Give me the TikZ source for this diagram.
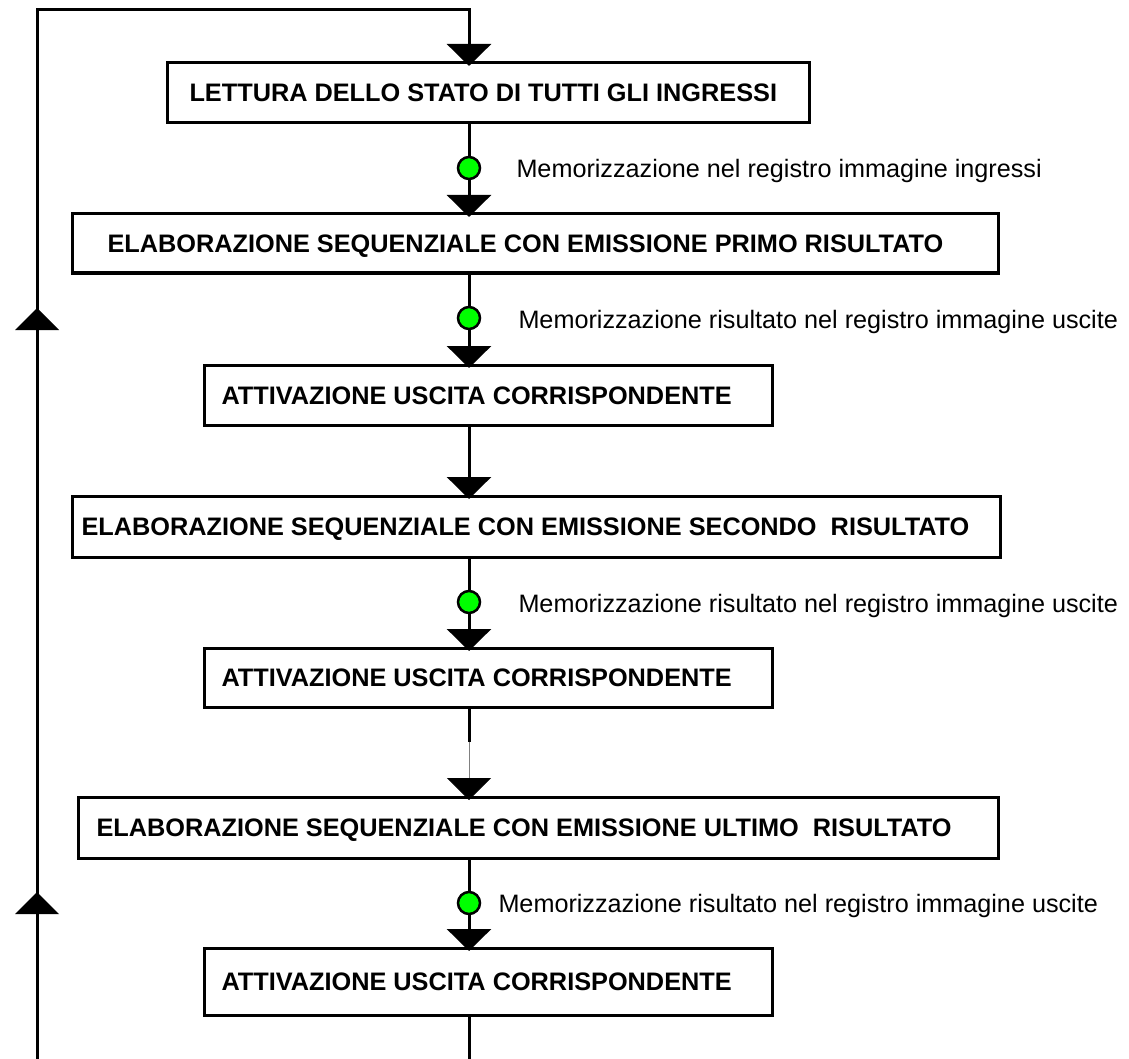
\documentclass[tikz,border=0pt]{standalone}
\usepackage{fontspec}
\setmainfont{Liberation Sans}
\usetikzlibrary{arrows.meta}
\definecolor{ledgreen}{RGB}{0,255,0}
\begin{document}
\begin{tikzpicture}[x=1pt,y=-1pt,
  line width=3pt, line join=miter,
  box/.style={draw, rectangle, inner sep=0pt, outer sep=0pt},
  boxtext/.style={anchor=base west, inner sep=0pt, font=\fontsize{25.3}{30}\selectfont\bfseries},
  note/.style={anchor=base west, inner sep=0pt, font=\fontsize{25.2}{30}\selectfont},
  dot/.style={circle, draw, fill=ledgreen, line width=2.5pt, minimum size=22pt, inner sep=0pt, outer sep=0pt},
  flow/.style={-{Triangle[width=44pt,length=22pt,color=black]}, shorten >=-3pt},
  uptri/.pic={\fill (-22,22) -- (22,22) -- (0,0) -- cycle;},
]
\useasboundingbox (0,0) rectangle (1129,1059);

% main flow axis
\coordinate (axis) at (469,0);

% process boxes
\node[box, minimum width=642pt, minimum height=60pt] (b1) at (488,93) {};
\node[box, minimum width=926pt, minimum height=59pt] (b2) at (535,243.5) {};
\node[box, minimum width=568pt, minimum height=60pt] (b3) at (488,395) {};
\node[box, minimum width=928pt, minimum height=61pt] (b4) at (536,526.5) {};
\node[box, minimum width=568pt, minimum height=59pt] (b5) at (488,677.5) {};
\node[box, minimum width=920pt, minimum height=61pt] (b6) at (538,827.5) {};
\node[box, minimum width=568pt, minimum height=67pt] (b7) at (488,981.5) {};

% box captions
\node[boxtext] (t1) at (188,102) {LETTURA DELLO STATO DI TUTTI GLI INGRESSI};
\node[boxtext] (t2) at (106,252.5) {ELABORAZIONE SEQUENZIALE CON EMISSIONE PRIMO RISULTATO};
\node[boxtext] (t3) at (220,404) {ATTIVAZIONE USCITA CORRISPONDENTE};
\node[boxtext] (t4) at (80,535.5) {ELABORAZIONE SEQUENZIALE CON EMISSIONE SECONDO\ \ RISULTATO};
\node[boxtext] (t5) at (220,686.5) {ATTIVAZIONE USCITA CORRISPONDENTE};
\node[boxtext] (t6) at (95,836.5) {ELABORAZIONE SEQUENZIALE CON EMISSIONE ULTIMO\ \ RISULTATO};
\node[boxtext] (t7) at (220,990.5) {ATTIVAZIONE USCITA CORRISPONDENTE};

% storage points
\node[dot] (c1) at (469,168) {};
\node[dot] (c2) at (469,318) {};
\node[dot] (c3) at (469,602) {};
\node[dot] (c4) at (469,903) {};

\node[note] (m1) at (515,178) {Memorizzazione nel registro immagine ingressi};
\node[note] (m2) at (517,328) {Memorizzazione risultato nel registro immagine uscite};
\node[note] (m3) at (517,612) {Memorizzazione risultato nel registro immagine uscite};
\node[note] (m4) at (497,912) {Memorizzazione risultato nel registro immagine uscite};

% connectors along the axis
\draw (b1.south -| axis) -- (c1);
\draw[flow] (c1) -- (b2.north -| axis);
\draw (b2.south -| axis) -- (c2);
\draw[flow] (c2) -- (b3.north -| axis);
\draw[flow] (b3.south -| axis) -- (b4.north -| axis);
\draw (b4.south -| axis) -- (c3);
\draw[flow] (c3) -- (b5.north -| axis);
\coordinate (k1) at (469,742);
\draw (b5.south -| axis) -- (k1);
\draw[flow, line width=0.8pt, draw=gray] (k1) -- (b6.north -| axis);
\draw (b6.south -| axis) -- (c4);
\draw[flow] (c4) -- (b7.north -| axis);
\coordinate (endB) at (469,1059);
\draw (b7.south -| axis) -- (endB);

% return loop
\coordinate (loopB) at (37,1059);
\coordinate (loopL) at (37,10);
\coordinate (loopR) at (469,10);
\draw[flow] (loopB) -- (loopL) -- (loopR) -- (b1.north -| axis);
\pic at (37,308) {uptri};
\pic at (37,892) {uptri};
\end{tikzpicture}
\end{document}
